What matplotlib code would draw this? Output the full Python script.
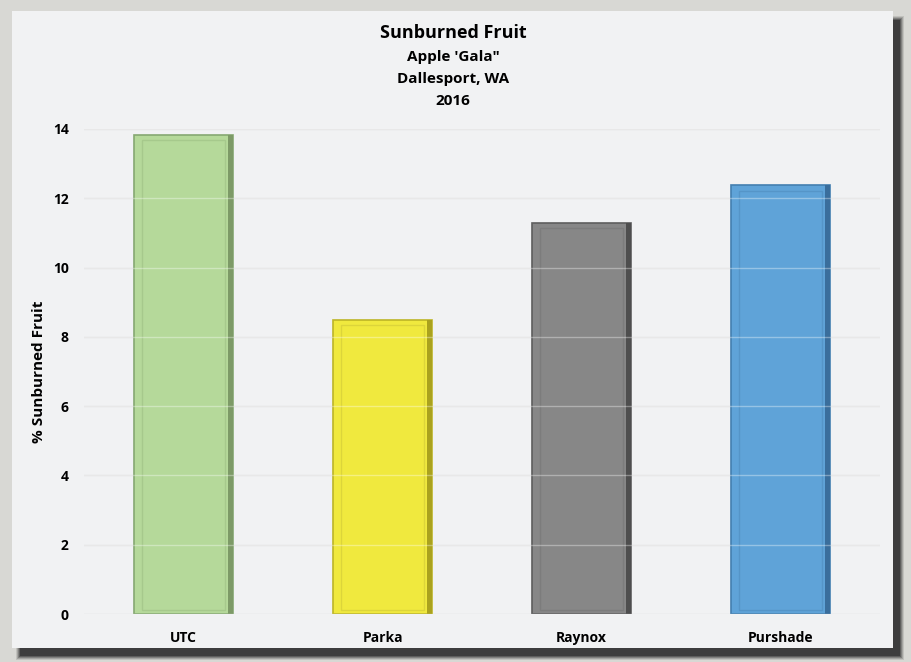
import matplotlib.pyplot as plt
from matplotlib.patches import Rectangle
from matplotlib import font_manager

treatments = ["UTC", "Parka", "Raynox", "Purshade"]
sunburn_pct = [13.83, 8.49, 11.29, 12.38]
bar_colors = ["#b5d99a", "#f0e93e", "#878787", "#5fa3d8"]
edge_colors = ["#86a872", "#bdb526", "#5e5e5e", "#447fb0"]
side_colors = ["#7d9a67", "#aaa21e", "#4e4e4e", "#3a6e9c"]
inner_colors = ["#a6c98c", "#dcd53a", "#7c7c7c", "#5595c8"]
yticks = [0, 2, 4, 6, 8, 10, 12, 14]
title_lines = ["Sunburned Fruit", "Apple 'Gala\"", "Dallesport, WA", "2016"]

names = {f.name for f in font_manager.fontManager.ttflist}
fam = ["Liberation Sans Narrow", "DejaVu Sans"] if "Liberation Sans Narrow" in names else ["Open Sans", "DejaVu Sans"]
plt.rcParams['font.family'] = fam
plt.rcParams['font.weight'] = 'bold'

W, H = 911, 662
fig = plt.figure(figsize=(W / 100, H / 100), dpi=100)
fig.patch.set_facecolor("#d8d8d4")

# soft shadow behind the panel
for i, a in enumerate([0.12, 0.18, 0.25, 0.35, 0.5]):
    g = 4 - i
    fig.patches.append(Rectangle(((20 - g) / W, (H - 656 - g) / H), (880 + 2 * g) / W, (636 + 2 * g) / H,
                                 transform=fig.transFigure, facecolor="#1e1e1e", alpha=a,
                                 edgecolor="none", zorder=0))
fig.patches.append(Rectangle((12 / W, (H - 648) / H), 881 / W, 637 / H, transform=fig.transFigure,
                             facecolor="#f1f2f3", edgecolor="none", zorder=1))

ax = fig.add_axes([84 / W, (H - 614) / H, 796 / W, 485 / H])
ax.set_facecolor("none")
ax.set_zorder(2)

x = list(range(len(treatments)))
bw = 0.5
ax.bar(x, sunburn_pct, width=bw, color=bar_colors, edgecolor=edge_colors, linewidth=1.2, zorder=2)
# darker right side of the bevel
ax.bar([i + bw / 2 - 0.012 for i in x], sunburn_pct, width=0.024, color=side_colors, linewidth=0, zorder=2.5)
# inner outline of the bevel
ax.bar(x, [v - 0.28 for v in sunburn_pct], bottom=0.12, width=0.42, color="none",
       edgecolor=inner_colors, linewidth=1.0, zorder=3)

for t in yticks:
    ax.axhline(t, color="#dcdcdc", linewidth=1, zorder=1)
    ax.axhline(t, color="white", alpha=0.35, linewidth=1, zorder=4)

ax.set_xlim(-0.5, 3.5)
ax.set_ylim(0, 14)
ax.set_yticks(yticks)
ax.set_xticks(x)
ax.set_xticklabels(treatments)
ax.tick_params(axis='both', length=0, labelsize=10)
ax.tick_params(axis='y', pad=11)
ax.tick_params(axis='x', pad=12)
for s in ax.spines.values():
    s.set_visible(False)
ax.set_ylabel("% Sunburned Fruit", fontsize=11, fontweight='bold', labelpad=5)

ypos = [33, 57, 79, 101]
sizes = [13, 11, 11, 11]
for line, yp, sz in zip(title_lines, ypos, sizes):
    fig.text(453 / W, 1 - yp / H, line, ha='center', va='center', fontsize=sz, fontweight='bold', zorder=5)

fig.savefig("out.png", dpi=100)
